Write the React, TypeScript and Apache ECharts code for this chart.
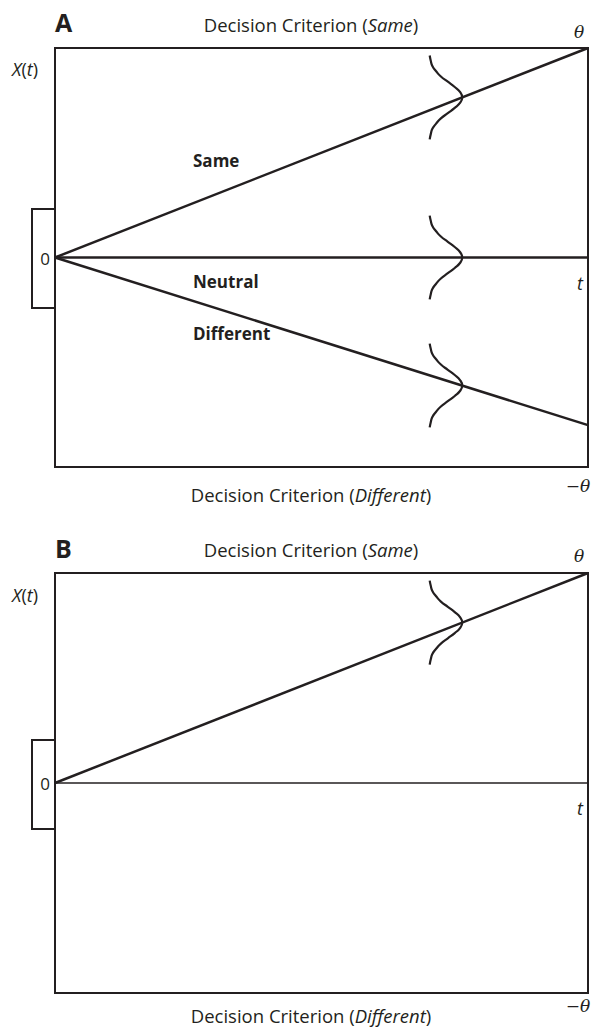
import React, { useEffect, useRef } from "react";
import * as echarts from "echarts";

// time axis (t) from origin to the right edge
const T = [0, 1];
// Panel A drift lines (X(t) in units of theta)
const sameA = [0, 1];
const neutralA = [0, 0];
const diffA = [0, -0.8];
// Panel B drift lines
const sameB = [0, 1];
const neutralB = [0, 0];
// Distribution centres [t, X]
const gaussCentersA = [
  [0.764, 0.764],
  [0.764, 0],
  [0.764, -0.611],
];
const gaussCentersB = [[0.764, 0.764]];
// Sideways bell profile: offsets dy (X units) and dx (t units)
const profileDy = [-0.2, -0.175, -0.15, -0.125, -0.1, -0.075, -0.05, -0.025, 0, 0.025, 0.05, 0.075, 0.1, 0.125, 0.15, 0.175, 0.2];
const profileDx = [-0.061, -0.059, -0.056, -0.049, -0.04, -0.027, -0.014, -0.0038, 0, -0.0038, -0.014, -0.027, -0.04, -0.049, -0.056, -0.059, -0.061];

const INK = "#231f20";
const SANS = "'Open Sans', 'Noto Sans', sans-serif";
const SERIF = "'DejaVu Serif', 'Liberation Serif', serif";

const lineSeries = (gi: number, ys: number[], width: number) => ({
  type: "line",
  xAxisIndex: gi,
  yAxisIndex: gi,
  data: T.map((t, i) => [t, ys[i]]),
  symbol: "none",
  lineStyle: { color: INK, width },
  z: 3,
});

const gaussSeries = (gi: number, c: number[]) => ({
  type: "line",
  xAxisIndex: gi,
  yAxisIndex: gi,
  smooth: true,
  data: profileDy.map((dy, i) => [c[0] + profileDx[i], c[1] + dy]),
  symbol: "none",
  lineStyle: { color: INK, width: 2.2 },
  z: 4,
});

const titleText = (x: number, y: number, italicWord: string) => ({
  type: "text",
  x,
  y,
  style: {
    text: `{n|Decision Criterion (}{i|${italicWord}}{n|)}`,
    align: "center",
    verticalAlign: "middle",
    rich: {
      n: { fontFamily: SANS, fontSize: 18.5, fill: INK },
      i: { fontFamily: SANS, fontSize: 18.5, fontStyle: "italic", fill: INK },
    },
  },
});

const plainText = (x: number, y: number, text: string, opts: any = {}) => ({
  type: "text",
  x,
  y,
  style: {
    text,
    fill: INK,
    fontFamily: SANS,
    fontSize: 17,
    align: "left",
    verticalAlign: "middle",
    ...opts,
  },
});

const xtText = (x: number, y: number) => ({
  type: "text",
  x,
  y,
  style: {
    text: "{i|X}{n|(}{i|t}{n|)}",
    align: "left",
    verticalAlign: "middle",
    rich: {
      n: { fontFamily: SANS, fontSize: 18, fill: INK },
      i: { fontFamily: SANS, fontSize: 18, fontStyle: "italic", fill: INK },
    },
  },
});

const zeroBracket = (yTop: number, yBot: number) => ({
  type: "polyline",
  shape: {
    points: [
      [55, yTop],
      [32, yTop],
      [32, yBot],
      [55, yBot],
    ],
  },
  style: { stroke: INK, lineWidth: 2, fill: "none" },
});

export default function App() {
  const ref = useRef<HTMLDivElement>(null);
  useEffect(() => {
    if (!ref.current) return;
    const chart = echarts.init(ref.current, undefined, { renderer: "svg" });
    const axisCommon = {
      type: "value",
      axisLine: { show: false },
      axisTick: { show: false },
      axisLabel: { show: false },
      splitLine: { show: false },
    };
    chart.setOption({
      animation: false,
      backgroundColor: "#ffffff",
      grid: [
        { left: 55, top: 48, width: 533, height: 419, show: true, borderColor: INK, borderWidth: 2, backgroundColor: "transparent" },
        { left: 55, top: 573, width: 533, height: 420, show: true, borderColor: INK, borderWidth: 2, backgroundColor: "transparent" },
      ],
      xAxis: [
        { ...axisCommon, gridIndex: 0, min: 0, max: 1 },
        { ...axisCommon, gridIndex: 1, min: 0, max: 1 },
      ],
      yAxis: [
        { ...axisCommon, gridIndex: 0, min: -1, max: 1 },
        { ...axisCommon, gridIndex: 1, min: -1, max: 1 },
      ],
      series: [
        lineSeries(0, sameA, 2.5),
        lineSeries(0, neutralA, 2.5),
        lineSeries(0, diffA, 2.5),
        ...gaussCentersA.map((c) => gaussSeries(0, c)),
        lineSeries(1, sameB, 2.5),
        lineSeries(1, neutralB, 1.5),
        ...gaussCentersB.map((c) => gaussSeries(1, c)),
      ],
      graphic: [
        // Panel A
        plainText(55, 22, "A", { fontWeight: "bold", fontSize: 25 }),
        titleText(311, 24, "Same"),
        titleText(311, 494, "Different"),
        plainText(579, 32, "θ", { fontFamily: SERIF, fontStyle: "italic", fontSize: 17, align: "center" }),
        plainText(578, 486, "−θ", { fontFamily: SERIF, fontStyle: "italic", fontSize: 17, align: "center" }),
        xtText(12, 69),
        plainText(580, 283, "t", { fontStyle: "italic", fontSize: 18, align: "center" }),
        plainText(45, 258, "0", { align: "center" }),
        plainText(193, 160, "Same", { fontWeight: "bold" }),
        plainText(193, 281, "Neutral", { fontWeight: "bold" }),
        plainText(193, 333, "Different", { fontWeight: "bold" }),
        zeroBracket(209, 308),
        // Panel B
        plainText(55, 548, "B", { fontWeight: "bold", fontSize: 25 }),
        titleText(311, 549, "Same"),
        titleText(311, 1015, "Different"),
        plainText(579, 556, "θ", { fontFamily: SERIF, fontStyle: "italic", fontSize: 17, align: "center" }),
        plainText(578, 1006, "−θ", { fontFamily: SERIF, fontStyle: "italic", fontSize: 17, align: "center" }),
        xtText(12, 595),
        plainText(580, 808, "t", { fontStyle: "italic", fontSize: 18, align: "center" }),
        plainText(45, 783, "0", { align: "center" }),
        zeroBracket(740, 829),
      ],
    });
    return () => chart.dispose();
  }, []);
  return (
    <div
      ref={ref}
      style={{ position: "absolute", left: 0, top: 0, width: 595, height: 1028, background: "#fff" }}
    />
  );
}
